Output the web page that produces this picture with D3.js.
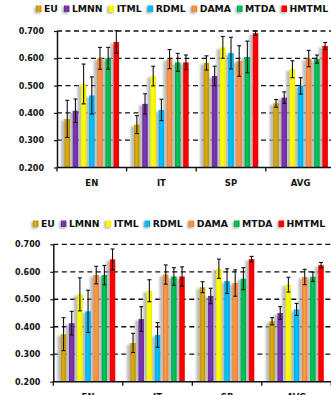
<!DOCTYPE html>
<html>
<head>
<meta charset="utf-8">
<script src="https://cdn.jsdelivr.net/npm/d3@7"></script>
<style>
  html, body { margin: 0; padding: 0; background: #fff; overflow: hidden; }
  svg { display: block; }
</style>
</head>
<body>
<div id="canvas"></div>
<script>
// Categories, methods and colours
const categories = ["EN", "IT", "SP", "AVG"]
const methods = ["EU", "LMNN", "ITML", "RDML", "DAMA", "MTDA", "HMTML"]
const colors = ["#C49A0C", "#7030A0", "#FFFF00", "#00B0F0", "#F5893A", "#00B050", "#FF0000"]
const yTicks = [0.2, 0.3, 0.4, 0.5, 0.6, 0.7]
const gridTicks = [0.3, 0.4, 0.5, 0.6, 0.7]

// Top chart - one row per method, values per category (EN, IT, SP, AVG)
const topMeans = [
    [0.378, 0.357, 0.583, 0.435], // EU
    [0.408, 0.433, 0.535, 0.456], // LMNN
    [0.506, 0.535, 0.640, 0.560], // ITML
    [0.464, 0.411, 0.619, 0.499], // RDML
    [0.600, 0.597, 0.590, 0.599], // DAMA
    [0.600, 0.585, 0.605, 0.597], // MTDA
    [0.660, 0.585, 0.692, 0.645]  // HMTML
]
const topErrors = [
    [0.068, 0.033, 0.026, 0.014],
    [0.043, 0.037, 0.036, 0.021],
    [0.073, 0.036, 0.040, 0.031],
    [0.068, 0.039, 0.058, 0.030],
    [0.040, 0.035, 0.056, 0.030],
    [0.040, 0.033, 0.058, 0.015],
    [0.041, 0.027, 0.008, 0.013]
]

// Bottom chart
const bottomMeans = [
    [0.373, 0.341, 0.544, 0.420],
    [0.413, 0.428, 0.512, 0.450],
    [0.518, 0.531, 0.611, 0.553],
    [0.456, 0.370, 0.566, 0.463],
    [0.588, 0.590, 0.559, 0.581],
    [0.588, 0.583, 0.575, 0.582],
    [0.645, 0.583, 0.646, 0.624]
]
const bottomErrors = [
    [0.060, 0.035, 0.020, 0.013],
    [0.043, 0.045, 0.028, 0.023],
    [0.060, 0.040, 0.035, 0.027],
    [0.077, 0.045, 0.045, 0.022],
    [0.032, 0.035, 0.048, 0.028],
    [0.035, 0.032, 0.040, 0.017],
    [0.038, 0.035, 0.010, 0.010]
]

const FONT = "'DejaVu Sans', Verdana, sans-serif"

let svg = d3.select('#canvas')
    .append('svg')
    .attr('width', 331)
    .attr('height', 395)

// Soft gray shadow behind each bar
let defs = svg.append('defs')
defs.append('filter')
    .attr('id', 'blur')
    .attr('x', '-50%').attr('y', '-10%')
    .attr('width', '200%').attr('height', '120%')
    .append('feGaussianBlur')
    .attr('stdDeviation', 0.9)

// Light vertical highlight on each bar colour
colors.forEach(function(c, i) {
    let g = defs.append('linearGradient')
        .attr('id', 'grad' + i)
        .attr('x1', '0%').attr('x2', '100%')
    g.append('stop').attr('offset', '0%').attr('stop-color', d3.color(c).darker(0.15))
    g.append('stop').attr('offset', '45%').attr('stop-color', d3.color(c).brighter(0.35))
    g.append('stop').attr('offset', '100%').attr('stop-color', d3.color(c).darker(0.2))
})

function drawChart(opts, means, errors) {
    let g = svg.append('g')

    let y = d3.scaleLinear()
        .domain([0.2, 0.7])
        .range([opts.bottom, opts.top])

    let x0 = d3.scaleBand()
        .domain(categories)
        .range([opts.left, opts.right])
        .padding(0)

    let x1 = d3.scaleBand()
        .domain(methods)
        .range([0, x0.bandwidth()])
        .paddingInner(0.33)
        .paddingOuter(0.92)

    // Dashed gridlines
    g.selectAll('.grid')
        .data(gridTicks)
        .enter()
        .append('line')
        .attr('x1', opts.left)
        .attr('x2', opts.right)
        .attr('y1', d => y(d))
        .attr('y2', d => y(d))
        .attr('stroke', '#111')
        .attr('stroke-width', 1.3)
        .attr('stroke-dasharray', '5,3.5')

    // Flatten data for bars
    let rows = []
    categories.forEach(function(c, ci) {
        methods.forEach(function(m, mi) {
            rows.push({ cat: c, m: m, mi: mi, v: means[mi][ci], e: errors[mi][ci] })
        })
    })

    let bw = x1.bandwidth()

    // Shadows
    g.selectAll('.shadow')
        .data(rows)
        .enter()
        .append('rect')
        .attr('x', d => x0(d.cat) + x1(d.m) - 3.5)
        .attr('y', d => y(d.v) + 1.5)
        .attr('width', bw + 1)
        .attr('height', d => opts.bottom - y(d.v) - 1.5)
        .attr('fill', '#a8a8a8')
        .attr('opacity', 0.75)
        .attr('filter', 'url(#blur)')

    // Bars
    g.selectAll('.bar')
        .data(rows)
        .enter()
        .append('rect')
        .attr('x', d => x0(d.cat) + x1(d.m))
        .attr('y', d => y(d.v))
        .attr('width', bw)
        .attr('height', d => opts.bottom - y(d.v))
        .attr('fill', d => 'url(#grad' + d.mi + ')')

    // Error bars
    let eb = g.selectAll('.err')
        .data(rows)
        .enter()
        .append('g')
        .attr('stroke', '#111')
        .attr('stroke-width', 1.1)

    eb.append('line')
        .attr('x1', d => x0(d.cat) + x1(d.m) + bw / 2)
        .attr('x2', d => x0(d.cat) + x1(d.m) + bw / 2)
        .attr('y1', d => y(d.v + d.e))
        .attr('y2', d => y(d.v - d.e))
    eb.append('line')
        .attr('x1', d => x0(d.cat) + x1(d.m) + bw / 2 - 2)
        .attr('x2', d => x0(d.cat) + x1(d.m) + bw / 2 + 2)
        .attr('y1', d => y(d.v + d.e))
        .attr('y2', d => y(d.v + d.e))
    eb.append('line')
        .attr('x1', d => x0(d.cat) + x1(d.m) + bw / 2 - 2)
        .attr('x2', d => x0(d.cat) + x1(d.m) + bw / 2 + 2)
        .attr('y1', d => y(d.v - d.e))
        .attr('y2', d => y(d.v - d.e))

    // Y axis
    let yAxis = g.append('g')
        .attr('transform', 'translate(' + opts.left + ',0)')
        .call(d3.axisLeft(y).tickValues(yTicks).tickFormat(d3.format('.3f')).tickSize(3).tickSizeOuter(0))
    yAxis.select('.domain').attr('stroke', '#111').attr('stroke-width', 1.5)
    yAxis.selectAll('.tick line').attr('stroke', '#111').attr('stroke-width', 1.2)
    yAxis.selectAll('text')
        .attr('x', -13)
        .style('font-family', FONT)
        .style('font-weight', 'bold')
        .style('font-size', '8px')
        .attr('fill', '#111')

    // X axis line with ticks at category boundaries
    let bounds = categories.map(c => x0(c)).concat([opts.right])
    g.append('line')
        .attr('x1', opts.left)
        .attr('x2', opts.right)
        .attr('y1', opts.bottom)
        .attr('y2', opts.bottom)
        .attr('stroke', '#111')
        .attr('stroke-width', 1.5)
    g.selectAll('.xtick')
        .data(bounds)
        .enter()
        .append('line')
        .attr('x1', d => d)
        .attr('x2', d => d)
        .attr('y1', opts.bottom)
        .attr('y2', opts.bottom + 4)
        .attr('stroke', '#111')
        .attr('stroke-width', 1.3)

    g.selectAll('.xlabel')
        .data(categories)
        .enter()
        .append('text')
        .attr('x', d => x0(d) + x0.bandwidth() / 2)
        .attr('y', opts.bottom + 18.5)
        .attr('text-anchor', 'middle')
        .style('font-family', FONT)
        .style('font-weight', 'bold')
        .style('font-size', '8.5px')
        .attr('fill', '#111')
        .text(d => d)

    // Legend
    let lg = g.append('g')
    let xPos = opts.legendX
    methods.forEach(function(m, i) {
        lg.append('rect')
            .attr('x', xPos - 1.5)
            .attr('y', opts.legendY - 2.5)
            .attr('width', 6)
            .attr('height', 7)
            .attr('fill', '#b0b0b0')
            .attr('filter', 'url(#blur)')
        lg.append('rect')
            .attr('x', xPos)
            .attr('y', opts.legendY - 3.5)
            .attr('width', 5.5)
            .attr('height', 6.5)
            .attr('fill', 'url(#grad' + i + ')')
        let t = lg.append('text')
            .attr('x', xPos + 8)
            .attr('y', opts.legendY + 3.3)
            .style('font-family', FONT)
            .style('font-weight', 'bold')
            .style('font-size', '9.3px')
            .attr('fill', '#111')
            .text(m)
        xPos += 8 + t.node().getComputedTextLength() + opts.legendGap
    })
}

drawChart({ left: 57, right: 335.4, top: 31, bottom: 167.5, legendX: 36, legendY: 9, legendGap: 6 },
    topMeans, topErrors)

drawChart({ left: 53.3, right: 331.3, top: 244.3, bottom: 381.7, legendX: 33, legendY: 224, legendGap: 6 },
    bottomMeans, bottomErrors)
</script>
</body>
</html>
